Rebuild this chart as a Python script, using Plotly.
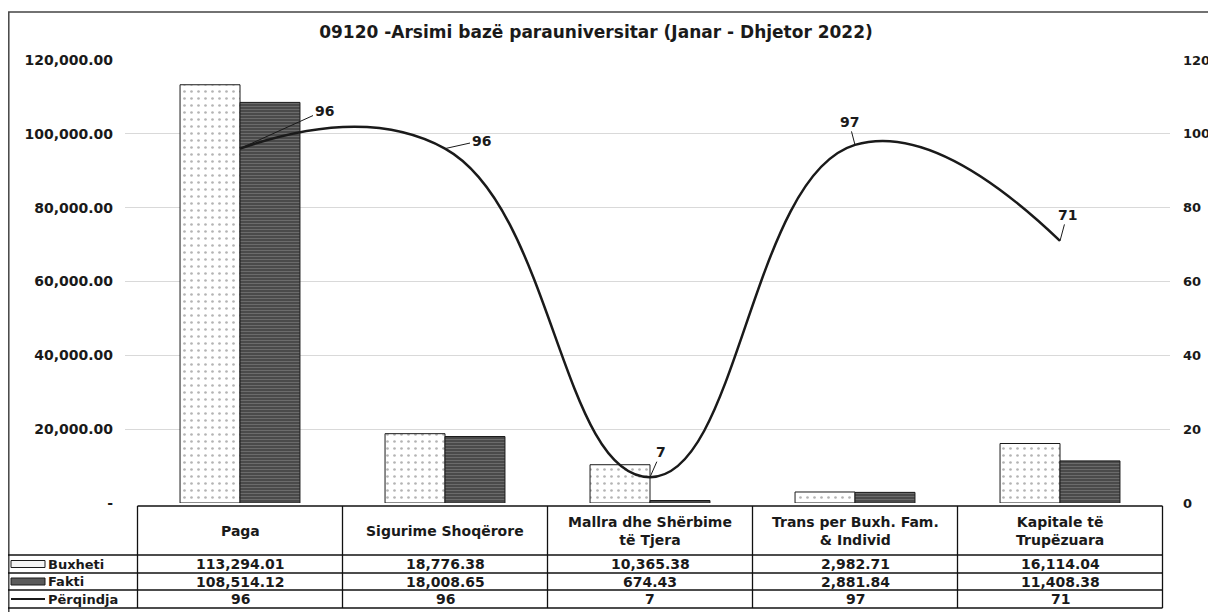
import plotly.graph_objects as go

categories = ["Paga", "Sigurime Shoqërore", "Mallra dhe Shërbime<br>të Tjera",
              "Trans per Buxh. Fam.<br>& Individ", "Kapitale të<br>Trupëzuara"]
buxheti = [113294.01, 18776.38, 10365.38, 2982.71, 16114.04]
fakti = [108514.12, 18008.65, 674.43, 2881.84, 11408.38]
perqindja = [96, 96, 7, 97, 71]
series_names = ["Buxheti", "Fakti", "Përqindja"]
left_ticks = [0, 20000, 40000, 60000, 80000, 100000, 120000]
left_ticktext = ["-", "20,000.00", "40,000.00", "60,000.00", "80,000.00", "100,000.00", "120,000.00"]
right_ticks = [0, 20, 40, 60, 80, 100, 120]
title = "09120 -Arsimi bazë parauniversitar (Janar - Dhjetor 2022)"

# The page body has an 8px margin, so the figure is sized to end at the window edge
OFF = 8
SCREEN_W, SCREEN_H = 1216, 612
W, H = SCREEN_W - OFF, SCREEN_H - OFF
FONT = "DejaVu Sans"
INK = "#1a1a1a"

# layout geometry in screen pixels
PLOT_L, PLOT_R, PLOT_T, PLOT_B = 125, 1170, 60, 503
CAT0, CAT_W = 240, 205          # screen centre of first category and category pitch
TAB_T, HEAD_B = 506, 555
ROW_LINES = [555, 573, 590, 608]
FRAME = (8, 12, 1212, 612)

X_R0 = -(CAT0 - PLOT_L) / CAT_W
X_R1 = X_R0 + (PLOT_R - PLOT_L) / CAT_W

def px_x(p):
    return (p - OFF) / W

def px_y(p):
    return 1 - (p - OFF) / H

def xdata_to_paper(v):
    return px_x(PLOT_L + (v - X_R0) * CAT_W)

fig = go.Figure()

fig.add_trace(go.Bar(
    x=categories, y=buxheti, name=series_names[0], showlegend=False,
    marker=dict(color="white", line=dict(color=INK, width=1),
                pattern=dict(shape=".", bgcolor="white", fgcolor="#6a6a6a", size=7, solidity=0.12)),
))
fig.add_trace(go.Bar(
    x=categories, y=fakti, name=series_names[1], showlegend=False,
    marker=dict(color="#555555", line=dict(color=INK, width=1),
                pattern=dict(shape="-", bgcolor="#4a4a4a", fgcolor="#8c8c8c", size=3, solidity=0.35)),
))
fig.add_trace(go.Scatter(
    x=categories, y=perqindja, name=series_names[2], yaxis="y2", mode="lines", showlegend=False,
    line=dict(color=INK, width=2.5, shape="spline", smoothing=1.3),
))

# data labels for the line (offsets of label from point, pixels)
label_offsets = [(84, -38), (36, -8), (11, -25), (-6, -23), (7, -26)]
for cat, val, (ax, ay) in zip(categories, perqindja, label_offsets):
    fig.add_annotation(
        x=cat, y=val, xref="x", yref="y2", text=f"{val}",
        showarrow=True, arrowhead=0, arrowwidth=1, arrowcolor=INK,
        ax=ax, ay=ay, standoff=0,
        font=dict(family=FONT, size=14, color=INK, weight="bold"),
    )

# ---- data table below the plot ----
shapes = []
line_style = dict(color="#111", width=1.3)
n = len(categories)
table_right = xdata_to_paper(n - 0.5)
shapes.append(dict(type="line", xref="paper", yref="paper", x0=xdata_to_paper(-0.5), x1=table_right,
                   y0=px_y(TAB_T), y1=px_y(TAB_T), line=line_style))
for yy in ROW_LINES:
    shapes.append(dict(type="line", xref="paper", yref="paper", x0=px_x(FRAME[0]), x1=table_right,
                       y0=px_y(yy), y1=px_y(yy), line=line_style))
for k in range(n + 1):
    shapes.append(dict(type="line", xref="x", yref="paper", x0=k - 0.5, x1=k - 0.5,
                       y0=px_y(TAB_T), y1=px_y(ROW_LINES[-1]), line=line_style))

tfont = dict(family=FONT, size=14, color=INK, weight="bold")
for cat in categories:
    fig.add_annotation(x=cat, xref="x", y=px_y((TAB_T + HEAD_B) / 2), yref="paper",
                       text=cat, showarrow=False, yanchor="middle", align="center", font=tfont)

row_vals = [
    [f"{v:,.2f}" for v in buxheti],
    [f"{v:,.2f}" for v in fakti],
    [f"{v}" for v in perqindja],
]
for r, vals in enumerate(row_vals):
    yc = (ROW_LINES[r] + ROW_LINES[r + 1]) / 2
    for cat, txt in zip(categories, vals):
        fig.add_annotation(x=cat, xref="x", y=px_y(yc), yref="paper", text=txt,
                           showarrow=False, yanchor="middle", font=tfont)
    fig.add_annotation(x=px_x(46), xref="paper", y=px_y(yc), yref="paper", text=series_names[r],
                       showarrow=False, xanchor="left", yanchor="middle",
                       font=dict(family=FONT, size=13, color=INK, weight="bold"))

# legend keys in the first table column
y_b = (ROW_LINES[0] + ROW_LINES[1]) / 2
y_f = (ROW_LINES[1] + ROW_LINES[2]) / 2
y_p = (ROW_LINES[2] + ROW_LINES[3]) / 2
shapes.append(dict(type="rect", xref="paper", yref="paper", x0=px_x(11), x1=px_x(45),
                   y0=px_y(y_b + 3.5), y1=px_y(y_b - 3.5), fillcolor="#f4f4f4",
                   line=dict(color=INK, width=1)))
shapes.append(dict(type="rect", xref="paper", yref="paper", x0=px_x(11), x1=px_x(45),
                   y0=px_y(y_f + 3.5), y1=px_y(y_f - 3.5), fillcolor="#5a5a5a",
                   line=dict(color=INK, width=1)))
shapes.append(dict(type="line", xref="paper", yref="paper", x0=px_x(11), x1=px_x(45),
                   y0=px_y(y_p), y1=px_y(y_p), line=dict(color=INK, width=2.2)))

# outer chart frame
shapes.append(dict(type="rect", xref="paper", yref="paper", x0=px_x(FRAME[0] + 0.8), x1=px_x(FRAME[2]),
                   y0=px_y(FRAME[3] + 2), y1=px_y(FRAME[1]), line=dict(color="#444", width=1.5),
                   layer="below"))

fig.update_layout(
    width=W, height=H,
    margin=dict(l=0, r=0, t=0, b=0, autoexpand=False),
    paper_bgcolor="white", plot_bgcolor="white",
    barmode="group", bargap=0.415, bargroupgap=0,
    showlegend=False,
    font=dict(family=FONT, size=14, color=INK),
    title=dict(text=title, x=px_x(596), xanchor="center", y=px_y(32), yanchor="middle",
               font=dict(family=FONT, size=17, color=INK, weight="bold")),
    xaxis=dict(domain=[px_x(PLOT_L), px_x(PLOT_R)], range=[X_R0, X_R1], showticklabels=False,
               showgrid=False, zeroline=False, showline=False, ticks=""),
    yaxis=dict(domain=[px_y(PLOT_B), px_y(PLOT_T)], range=[0, 120000], tickvals=left_ticks,
               ticktext=left_ticktext, showgrid=True,
               gridcolor="#d9d9d9", gridwidth=1, zeroline=False, ticks="", ticklabelstandoff=11,
               tickfont=dict(family=FONT, size=14, color=INK, weight="bold")),
    yaxis2=dict(overlaying="y", side="right", range=[0, 120], tickvals=right_ticks,
                showgrid=False, zeroline=False, ticks="", ticklabelstandoff=12,
                tickfont=dict(family=FONT, size=13, color=INK, weight="bold")),
    shapes=shapes,
)

fig.write_html("out.html")
